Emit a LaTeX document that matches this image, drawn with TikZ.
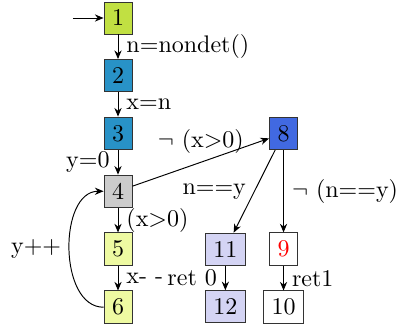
\documentclass[tikz,border=0pt]{standalone}
\usepackage{xcolor}
\usepackage{tikz}
\usetikzlibrary{arrows.meta,positioning}

\definecolor{locinit}{RGB}{193,224,66}
\definecolor{locblue}{RGB}{40,146,199}
\definecolor{locroyal}{RGB}{65,105,225}
\definecolor{locgray}{RGB}{204,204,204}
\definecolor{locloop}{RGB}{238,250,162}
\definecolor{locret}{RGB}{212,212,244}

\begin{document}
\begin{tikzpicture}[
  node distance=3.6mm,
  loc/.style={draw=black!80},
  arr/.style={-{Stealth[length=3.6pt,width=3pt]}}
]
\useasboundingbox (-49.17pt,7.5pt) rectangle (115.83pt,-129.17pt);
\node[loc, fill=locinit] (n1) {1};
\node[loc, fill=locblue, below=of n1] (n2) {2};
\node[loc, fill=locblue, below=of n2] (n3) {3};
\node[loc, fill=locgray, below=of n3] (n4) {4};
\node[loc, fill=locloop, below=of n4] (n5) {5};
\node[loc, fill=locloop, below=of n5] (n6) {6};
\node[loc, fill=locroyal, right=2cm of n3] (n8) {8};
\node[loc, text=red] (n9) at (n8 |- n5) {9};
\node[loc, fill=locret, left=3.4mm of n9] (n11) {11};
\node[loc, fill=locret, below=of n11] (n12) {12};
\node[loc, below=of n9] (n10) {10};
\coordinate[left=4.5mm of n1] (init);
\draw[arr] (init) -- (n1);
\draw[arr] (n1) -- node[right] {n=nondet()} (n2);
\draw[arr] (n2) -- node[right] {x=n} (n3);
\draw[arr] (n3) -- node[left] {y=0} (n4);
\draw[arr] (n4) -- node[right] {(x>0)} (n5);
\draw[arr] (n5) -- node[right] {x- -} (n6);
\draw[arr] (n6) to[bend left=90] node[left] {y++} (n4);
\draw[arr] (n4) -- node[above] {$\neg$ (x>0)} (n8);
\draw[arr] (n8) -- node[left] {n==y} (n11);
\draw[arr] (n8) -- node[right] {$\neg$ (n==y)} (n9);
\draw[arr] (n11) -- node[left] {ret 0} (n12);
\draw[arr] (n9) -- node[right] {ret1} (n10);
\end{tikzpicture}
\end{document}
